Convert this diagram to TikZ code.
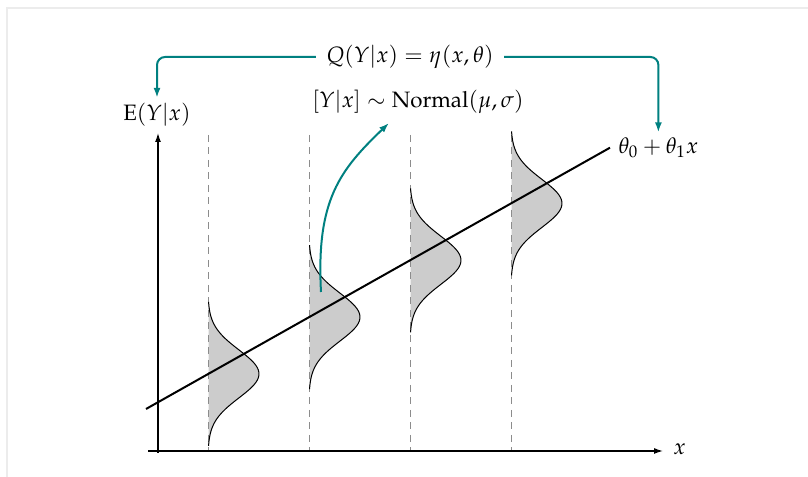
\documentclass[tikz,border=0pt]{standalone}
\usepackage{mathpazo}
\usetikzlibrary{arrows.meta}
\definecolor{tealc}{RGB}{0,128,128}
\definecolor{framec}{RGB}{236,236,236}
\begin{document}
\begin{tikzpicture}[x=0.4pt,y=-0.4pt,
  every node/.style={font=\fontsize{8.9pt}{11pt}\selectfont},
  axis/.style={line width=0.5pt,-{Latex[length=3.6pt,width=2.4pt]}},
  guide/.style={gray!90,line width=0.4pt,dash pattern=on 2.8pt off 2.2pt},
  bellfill/.style={fill=gray!40},
  bell/.style={black,line width=0.4pt},
  regline/.style={black,line width=0.8pt},
  tealarrow/.style={tealc,line width=0.8pt,-{Latex[length=4pt,width=2.8pt]}},
  lbl/.style={inner sep=2pt}]
\useasboundingbox (0,0) rectangle (808,477);
% faint frame
\draw[framec,line width=0.6pt] (6,8) -- (808,8);
\draw[framec,line width=0.6pt] (7,8) -- (7,477);
% gaussians
\foreach \xc/\yc in {208/373.9,309/317.1,410/260.3,511/203.4}{
  \fill[bellfill] plot[domain=-72:72,samples=60,variable=\t] ({\xc+51*exp(-\t*\t/1152)},{\yc+\t}) -- cycle;
  \draw[guide] (\xc,135) -- (\xc,450);
  \draw[bell] plot[domain=-72:72,samples=60,variable=\t] ({\xc+51*exp(-\t*\t/1152)},{\yc+\t});
}
% axes
\coordinate (xa0) at (148,451);
\coordinate (xa1) at (663,451);
\coordinate (ya0) at (158,453);
\coordinate (ya1) at (158,133);
\draw[axis] (xa0) -- (xa1);
\draw[axis] (ya0) -- (ya1);
\node[lbl,anchor=west] (xl) at (668,449) {$x$};
\node[lbl] (ey) at (157,115) {$\mathrm{E}(Y|x)$};
% regression line
\coordinate (r0) at (146,409);
\coordinate (r1) at (610,147.7);
\draw[regline] (r0) -- (r1);
\node[lbl,anchor=west] (th) at (613,148) {$\theta_0+\theta_1 x$};
% top label and arrows
\node[inner sep=4pt] (q) at (410,57) {$Q(Y|x)=\eta(x,\theta)$};
\draw[tealarrow,rounded corners=3.2pt] (q.west) -| (ey.north);
\draw[tealarrow,rounded corners=3.2pt] (q.east) -| (th.north);
% normal label and curved arrow
\node[lbl] (nl) at (418,102) {$[Y|x]\sim\mathrm{Normal}(\mu,\sigma)$};
\coordinate (c0) at (321,292);
\coordinate (c1) at (389,123);
\draw[tealarrow] (c0) .. controls (316,200) and (340,170) .. (c1);
\end{tikzpicture}
\end{document}
